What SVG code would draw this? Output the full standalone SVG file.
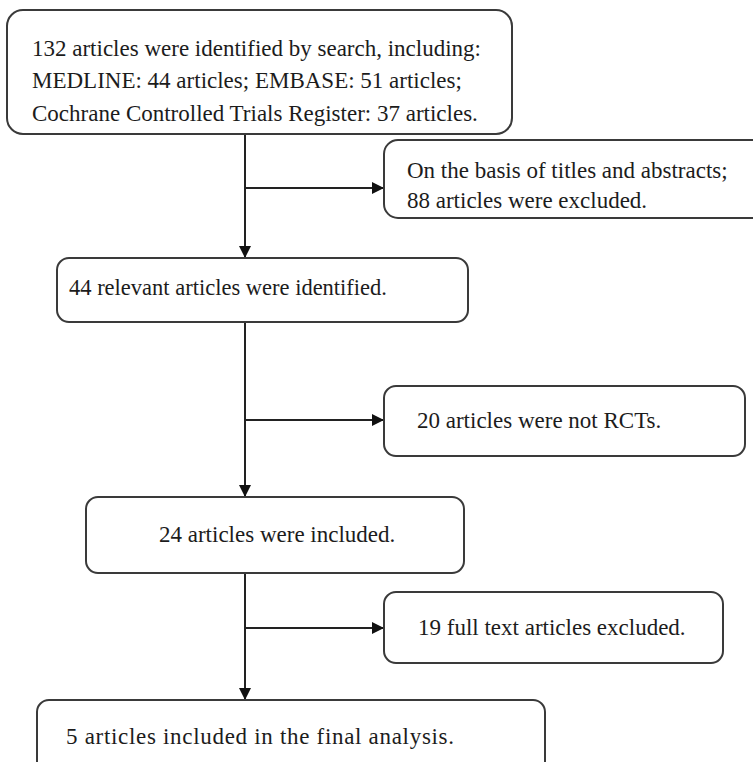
<svg xmlns="http://www.w3.org/2000/svg" width="753" height="762" viewBox="0 0 753 762">
<style>
.box{fill:#fff;stroke:#3a3a3a;stroke-width:2}
.t{font-family:"Liberation Serif","Times New Roman",serif;font-size:23px;fill:#1c1c1c}
.c{fill:none;stroke:#222;stroke-width:2}
</style>
<defs>
<marker id="ah" viewBox="0 0 12 12" refX="12" refY="6" markerWidth="12" markerHeight="12" markerUnits="userSpaceOnUse" orient="auto">
<path d="M0,0 L12,6 L0,12 Z" fill="#111"/>
</marker>
</defs>
<rect width="753" height="762" fill="#fff"/>
<g id="connectors">
<path class="c" d="M245,134 V258" marker-end="url(#ah)"/>
<path class="c" d="M245,188 H384" marker-end="url(#ah)"/>
<path class="c" d="M245,322 V497" marker-end="url(#ah)"/>
<path class="c" d="M245,420 H384" marker-end="url(#ah)"/>
<path class="c" d="M245,573 V700" marker-end="url(#ah)"/>
<path class="c" d="M245,628 H384" marker-end="url(#ah)"/>
</g>
<g id="n1">
<rect class="box" x="7" y="10" width="505" height="124" rx="16"/>
<text class="t" x="32" y="56">132 articles were identified by search, including:</text>
<text class="t" x="32" y="88">MEDLINE: 44 articles; EMBASE: 51 articles;</text>
<text class="t" x="32" y="121">Cochrane Controlled Trials Register: 37 articles.</text>
</g>
<g id="n2">
<rect class="box" x="384" y="140" width="390" height="78" rx="14"/>
<text class="t" x="407" y="178">On the basis of titles and abstracts;</text>
<text class="t" x="407" y="208">88 articles were excluded.</text>
</g>
<g id="n3">
<rect class="box" x="57" y="258" width="411" height="64" rx="12"/>
<text class="t" x="69" y="295" style="font-size:22.5px">44 relevant articles were identified.</text>
</g>
<g id="n4">
<rect class="box" x="384" y="386" width="361" height="70" rx="12"/>
<text class="t" x="417" y="428">20 articles were not RCTs.</text>
</g>
<g id="n5">
<rect class="box" x="86" y="497" width="378" height="76" rx="12"/>
<text class="t" x="159" y="542">24 articles were included.</text>
</g>
<g id="n6">
<rect class="box" x="384" y="592" width="339" height="71" rx="12"/>
<text class="t" x="418" y="635">19 full text articles excluded.</text>
</g>
<g id="n7">
<rect class="box" x="37" y="700" width="508" height="90" rx="12"/>
<text class="t" x="66" y="744" textLength="388" lengthAdjust="spacing">5 articles included in the final analysis.</text>
</g>
</svg>
